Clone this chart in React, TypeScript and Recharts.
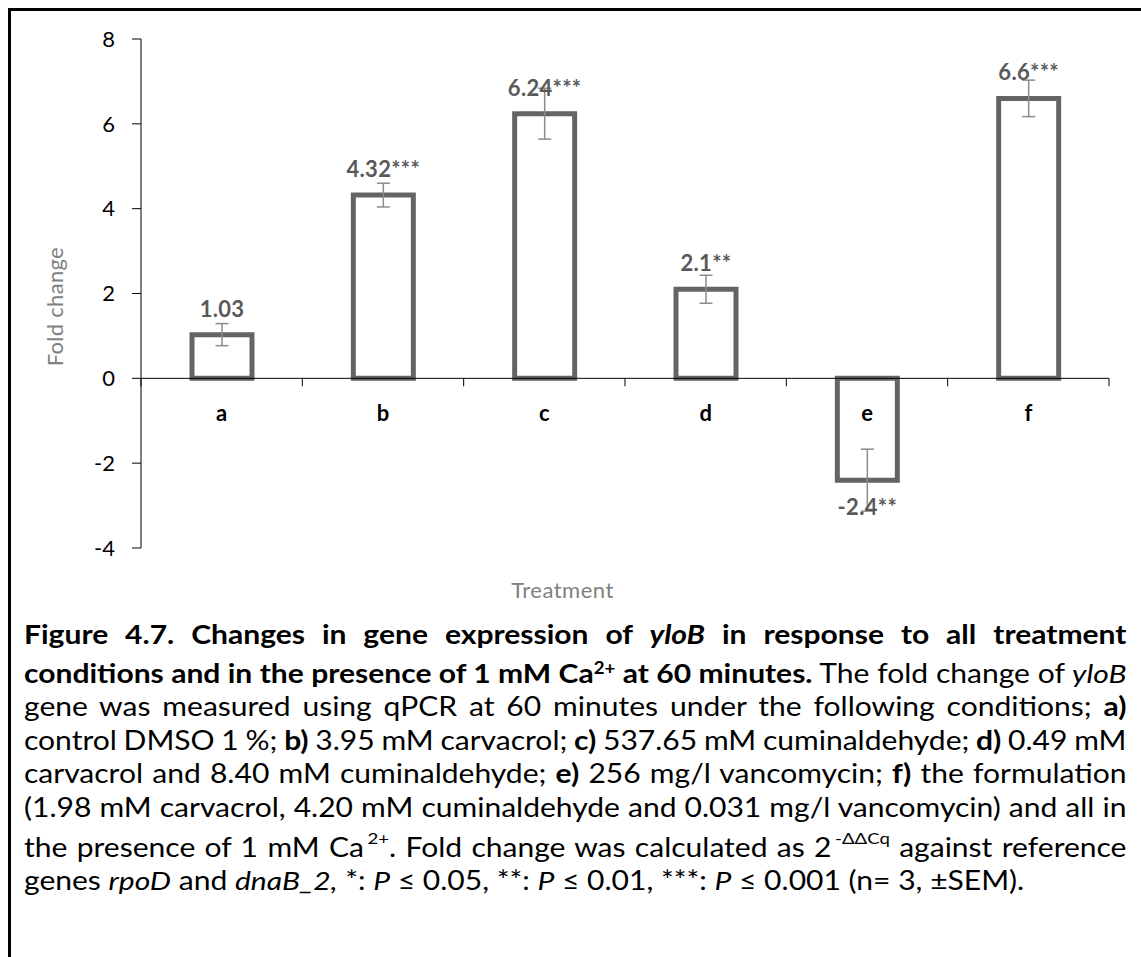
import React from 'react';
import { BarChart, Bar, XAxis, YAxis, ErrorBar, LabelList, ReferenceLine } from 'recharts';

// ---- data ----
const categories = ['a', 'b', 'c', 'd', 'e', 'f'];
const foldChange = [1.03, 4.32, 6.24, 2.1, -2.4, 6.6];
const sem = [0.26, 0.28, 0.6, 0.33, 0.73, 0.43];
const significance = ['', '***', '***', '**', '**', '***'];
const yTicks = [-4, -2, 0, 2, 4, 6, 8];
const yDomain = [-4, 8];

const data = categories.map((c, i) => ({
  cat: c,
  value: foldChange[i],
  err: sem[i],
  label: `${foldChange[i]}${significance[i]}`,
}));

const FONT = 'Lato, Carlito, Calibri, sans-serif';
const CHART_FS = 22;
const CAP_FS = 26;
const CAP_SX = 1.155;
const CAP_LEFT = 24;
const CAP_WIDTH = 1102.5;

const ValueLabel = (props: any) => {
  const vb = props.viewBox && props.viewBox.x != null ? props.viewBox : props;
  const { x, y, width, height } = vb;
  if (x == null) return null;
  const txt = String(props.value ?? '');
  const v = parseFloat(txt);
  const top = Math.min(y, y + height);
  const bottom = Math.max(y, y + height);
  const ty = v >= 0 ? top - 18 : bottom + 35;
  return (
    <text x={x + width / 2} y={ty} textAnchor="middle" fill="#595959" fontWeight={700}
      fontSize={CHART_FS} fontFamily={FONT} letterSpacing={0.3}>{txt}</text>
  );
};

const ZeroAxis = (props: any) => {
  const vb = props.viewBox || {};
  const { x, y, width } = vb;
  if (x == null || y == null) return null;
  const step = width / categories.length;
  const bounds = [0, ...categories.map((_, i) => i + 1)];
  return (
    <g>
      {bounds.map((b) => (
        <line key={'t' + b} x1={x + b * step} x2={x + b * step} y1={y} y2={y + 8} stroke="#000" strokeWidth={1} />
      ))}
      {categories.map((c, i) => (
        <text key={c} x={x + (i + 0.5) * step} y={y + 43} textAnchor="middle" fontWeight={700}
          fontSize={CHART_FS} fill="#000" fontFamily={FONT}>{c}</text>
      ))}
    </g>
  );
};

const supStyle = (raise: string, ml = 0): React.CSSProperties => ({
  fontSize: '0.62em', position: 'relative', top: raise, lineHeight: 0, marginLeft: ml,
});

const capLines: React.ReactNode[] = [
  <b>Figure 4.7. Changes in gene expression of <i>yloB</i> in response to all treatment</b>,
  <><b>conditions and in the presence of 1 mM Ca<span style={supStyle('-0.55em')}>2+</span> at 60 minutes.</b> The fold change of <i>yloB</i></>,
  <>gene was measured using qPCR at 60 minutes under the following conditions; <b>a)</b></>,
  <>control DMSO 1 %; <b>b)</b> 3.95 mM carvacrol; <b>c)</b> 537.65 mM cuminaldehyde; <b>d)</b> 0.49 mM</>,
  <>carvacrol and 8.40 mM cuminaldehyde; <b>e)</b> 256 mg/l vancomycin; <b>f)</b> the formulation</>,
  <>(1.98 mM carvacrol, 4.20 mM cuminaldehyde and 0.031 mg/l vancomycin) and all in</>,
  <>the presence of 1 mM Ca<span style={supStyle('-0.8em', 3)}>2+</span>. Fold change was calculated as 2<span style={supStyle('-0.8em', 3)}>-ΔΔCq</span> against reference</>,
  <>genes <i>rpoD</i> and <i>dnaB_2,</i> *: <i>P</i> ≤ 0.05, **: <i>P</i> ≤ 0.01, ***: <i>P</i> ≤ 0.001 (n= 3, ±SEM).</>,
];
const capBaselines = [645, 683.3, 716.7, 750.5, 784, 817.5, 857.5, 891];

export default function App() {
  return (
    <div style={{ position: 'relative', width: 1141, height: 957, overflow: 'hidden', background: '#fff' }}>
      <style>{`html,body{margin:0;padding:0;overflow:hidden;background:#fff;}`}</style>
      <div style={{ position: 'absolute', left: 8, top: 8, width: 1300, height: 1100, borderTop: '3px solid #000', borderLeft: '3px solid #000' }} />
      <div style={{ position: 'absolute', left: 0, top: 0 }}>
        <BarChart width={1141} height={600} data={data} margin={{ top: 39, right: 32, left: 81, bottom: 52 }}>
          <XAxis dataKey="cat" hide />
          <YAxis
            domain={yDomain}
            ticks={yTicks}
            interval={0}
            width={60}
            axisLine={{ stroke: '#000', strokeWidth: 1 }}
            tickLine={{ stroke: '#000', strokeWidth: 1 }}
            tickSize={9}
            tickMargin={17}
            tick={{ fontSize: CHART_FS, fill: '#000', fontFamily: FONT }}
            label={{
              content: () => (
                <text transform="translate(63,306.7) rotate(-90)" textAnchor="middle" fill="#808080"
                  fontSize={CHART_FS} fontFamily={FONT} letterSpacing={0.3}>Fold change</text>
              ),
            }}
          />
          <ReferenceLine y={0} stroke="#000" strokeWidth={1} label={(p: any) => <ZeroAxis {...p} />} />
          <Bar dataKey="value" fill="#fff" stroke="#646464" strokeWidth={5} barSize={60} isAnimationActive={false}>
            <ErrorBar dataKey="err" width={6.5} stroke="#8c8c8c" strokeWidth={1.5} direction="y" />
            <LabelList dataKey="label" content={ValueLabel} />
          </Bar>
        </BarChart>
      </div>
      <div style={{ position: 'absolute', left: 0, width: 1125, top: 599 - 0.987 * CHART_FS, textAlign: 'center', fontFamily: FONT, fontSize: CHART_FS, lineHeight: 1.2, color: '#808080', letterSpacing: 0.5 }}>
        Treatment
      </div>
      {capLines.map((ln, i) => {
        const last = i === capLines.length - 1;
        return (
          <div key={i} style={{
            position: 'absolute', left: CAP_LEFT, width: CAP_WIDTH / CAP_SX, top: capBaselines[i] - 0.987 * CAP_FS,
            transform: `scaleX(${CAP_SX})`, transformOrigin: '0 0',
            fontFamily: FONT, fontSize: CAP_FS, lineHeight: 1.2, color: '#000', whiteSpace: 'nowrap',
            wordSpacing: last ? 0 : -4,
            textAlign: last ? 'left' : 'justify',
            textAlignLast: last ? 'left' : 'justify',
          }}>{ln}</div>
        );
      })}
    </div>
  );
}
